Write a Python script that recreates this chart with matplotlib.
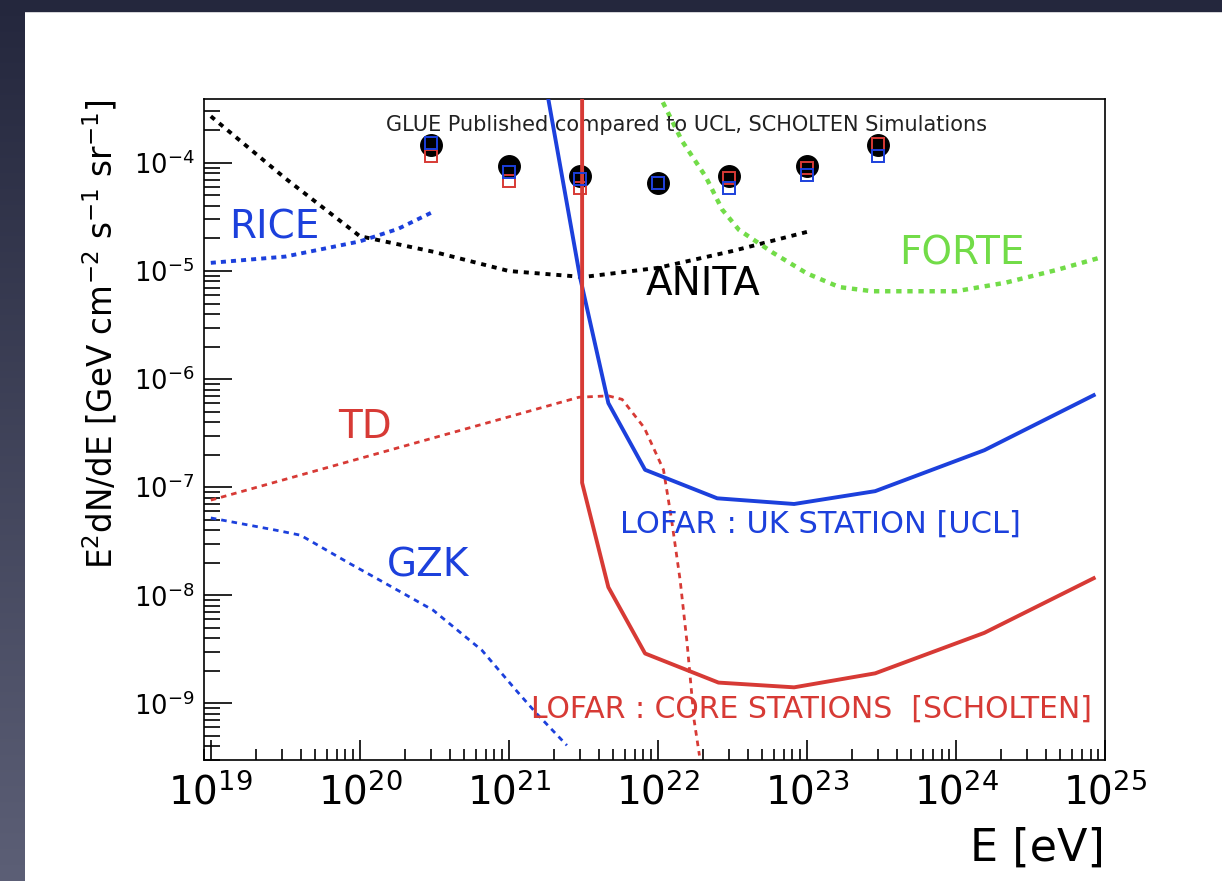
import numpy as np
import matplotlib.pyplot as plt
from matplotlib.colors import to_rgb
from matplotlib.patches import Rectangle
from matplotlib.ticker import LogLocator, NullFormatter

plt.rcParams['font.family'] = ['DejaVu Sans']
plt.rcParams['mathtext.fontset'] = 'dejavusans'

# GLUE published limits with the UCL / SCHOLTEN simulated points
glue_E = [3e20, 1e21, 3e21, 1e22, 3e22, 1e23, 3e23]
glue_flux = [1.45e-4, 9.4e-5, 7.5e-5, 6.5e-5, 7.5e-5, 9.4e-5, 1.45e-4]
ucl_flux = [1.53e-4, 8.3e-5, 7.1e-5, 6.5e-5, 5.9e-5, 7.7e-5, 1.16e-4]
scholten_flux = [1.16e-4, 6.8e-5, 5.9e-5, 6.5e-5, 7.3e-5, 9.0e-5, 1.5e-4]

# ANITA
anita_E = [1e19, 3.16e19, 1e20, 3.16e20, 1e21, 3.16e21, 1e22, 3.16e22, 1e23]
anita_flux = [2.7e-4, 7.2e-5, 2.1e-5, 1.5e-5, 1.0e-5, 8.8e-6, 1.07e-5, 1.53e-5, 2.3e-5]

# RICE
rice_E = [1e19, 3.16e19, 1e20, 1.8e20, 3.0e20]
rice_flux = [1.19e-5, 1.36e-5, 1.88e-5, 2.45e-5, 3.45e-5]

# FORTE
forte_E = [1.0e22, 1.45e22, 2.1e22, 2.7e22, 3.5e22, 5.9e22, 1.0e23, 1.65e23,
           2.75e23, 1.0e24, 2.15e24, 4.7e24, 9.1e24]
forte_flux = [4.5e-4, 1.6e-4, 7.4e-5, 3.7e-5, 2.4e-5, 1.48e-5, 9.5e-6, 7.1e-6,
              6.5e-6, 6.5e-6, 7.8e-6, 1.02e-5, 1.32e-5]

# LOFAR UK station (UCL)
ucl_E = [1.8e21, 3.0e21, 4.65e21, 8.2e21, 2.5e22, 8.2e22, 2.87e23, 1.55e24, 8.4e24]
ucl_limit = [4.6e-4, 8.8e-6, 6.0e-7, 1.45e-7, 7.9e-8, 7.0e-8, 9.2e-8, 2.2e-7, 7.1e-7]

# LOFAR core stations (SCHOLTEN)
core_E = [3.1e21, 3.1e21, 4.65e21, 8.2e21, 2.55e22, 8.2e22, 2.87e23, 1.55e24, 8.4e24]
core_limit = [1e-3, 1.1e-7, 1.19e-8, 2.9e-9, 1.56e-9, 1.41e-9, 1.9e-9, 4.5e-9, 1.44e-8]

# topological defects model
td_E = [1e19, 2.95e21, 4.65e21, 5.75e21, 8.1e21, 1.09e22, 1.23e22, 1.41e22,
        1.57e22, 1.75e22, 1.9e22]
td_flux = [7.6e-8, 6.8e-7, 7.0e-7, 6.5e-7, 3.55e-7, 1.45e-7, 5.2e-8, 1.38e-8,
           3.6e-9, 7.0e-10, 3.3e-10]

# GZK neutrinos
gzk_E = [1.0e19, 2.75e19, 4.0e19, 8.5e19, 1.3e20, 3.1e20, 6.6e20, 1.12e21,
         1.53e21, 2.45e21]
gzk_flux = [5.2e-8, 4.0e-8, 3.6e-8, 1.98e-8, 1.43e-8, 7.3e-9, 3.1e-9, 1.32e-9,
            8.1e-10, 4.1e-10]

# labelled decades
x_decades = [1e19, 1e20, 1e21, 1e22, 1e23, 1e24, 1e25]
y_decades = [1e-9, 1e-8, 1e-7, 1e-6, 1e-5, 1e-4]

blue = '#1c40dc'
red = '#d73a35'
green = '#72dc48'

fig = plt.figure(figsize=(12.22, 8.81), dpi=100, facecolor='white')

# slide background: dark gradient strip on the left, dark band on top
top_col = np.array(to_rgb('#24273d'))
bot_col = np.array(to_rgb('#5c5f76'))
t = np.linspace(0, 1, 881)[:, None, None]
strip = (1 - t) * top_col + t * bot_col
strip = np.repeat(strip, 25, axis=1)
fig.figimage(strip, xo=0, yo=0, origin='upper')
fig.add_artist(Rectangle((0, 1 - 11 / 881), 1, 11 / 881, color='#24273d',
                         transform=fig.transFigure))

ax = fig.add_axes([204 / 1222, 121 / 881, 901 / 1222, 661 / 881])
ax.set_xscale('log')
ax.set_yscale('log')

# curves
ax.plot(anita_E, anita_flux, color='black', lw=2.8, ls=(0, (1.3, 1.5)))
ax.plot(rice_E, rice_flux, color=blue, lw=2.8, ls=(0, (1.3, 1.3)))
ax.plot(forte_E, forte_flux, color=green, lw=3.2, ls=(0, (1.2, 1.3)))
ax.plot(td_E, td_flux, color=red, lw=2.0, ls=(0, (2.0, 1.8)))
ax.plot(gzk_E, gzk_flux, color=blue, lw=2.0, ls=(0, (2.0, 1.8)))

# data points
ax.plot(glue_E, glue_flux, 'o', color='black', ms=15.5, zorder=3)
ax.plot(ucl_E, ucl_limit, color=blue, lw=2.8, zorder=4)
ax.plot(core_E, core_limit, color=red, lw=2.8, zorder=4)
ax.plot(glue_E, scholten_flux, 's', mfc='none', mec=red, ms=8.5, mew=1.4, zorder=5)
ax.plot(glue_E, ucl_flux, 's', mfc='none', mec=blue, ms=8.5, mew=1.4, zorder=5)

ax.set_xlim(9e18, 1e25)
ax.set_ylim(3e-10, 3.9e-4)

# ROOT-style axes
ax.set_xticks(x_decades)
ax.set_yticks(y_decades)
for axis in (ax.xaxis, ax.yaxis):
    axis.set_minor_locator(LogLocator(base=10, subs=range(2, 10), numticks=20))
    axis.set_minor_formatter(NullFormatter())
ax.tick_params(which='both', direction='in', top=False, right=False, width=1.2)
ax.tick_params(axis='x', which='major', length=14.5, labelsize=28, pad=9)
ax.tick_params(axis='x', which='minor', length=8)
ax.tick_params(axis='y', which='major', length=20, labelsize=18.5, pad=7)
ax.tick_params(axis='y', which='minor', length=11.5)
for s in ax.spines.values():
    s.set_linewidth(1.2)

ax.set_ylabel(r'E$^{2}$dN/dE [GeV cm$^{-2}$ s$^{-1}$ sr$^{-1}$]', loc='top', fontsize=23.5)
ax.yaxis.set_label_coords(-0.094, 1.0)
ax.set_xlabel('E [eV]', loc='right', fontsize=32)
ax.xaxis.set_label_coords(1.0, -0.1)

# labels
ax.text(0.536, 0.9516, 'GLUE Published compared to UCL, SCHOLTEN Simulations',
        transform=ax.transAxes, ha='center', va='baseline', fontsize=15, color='#222222')
ax.text(0.0777, 0.7897, 'RICE', transform=ax.transAxes, ha='center', va='baseline',
        fontsize=28, color=blue)
ax.text(0.841, 0.749, 'FORTE', transform=ax.transAxes, ha='center', va='baseline',
        fontsize=28, color=green)
ax.text(0.554, 0.7035, 'ANITA', transform=ax.transAxes, ha='center', va='baseline',
        fontsize=28, color='black')
ax.text(0.1787, 0.487, 'TD', transform=ax.transAxes, ha='center', va='baseline',
        fontsize=28, color=red)
ax.text(0.2486, 0.2769, 'GZK', transform=ax.transAxes, ha='center', va='baseline',
        fontsize=28, color=blue)
ax.text(0.6837, 0.3434, 'LOFAR : UK STATION [UCL]', transform=ax.transAxes,
        ha='center', va='baseline', fontsize=22, color=blue)
ax.text(0.6748, 0.0635, 'LOFAR : CORE STATIONS  [SCHOLTEN]', transform=ax.transAxes,
        ha='center', va='baseline', fontsize=21.5, color=red)

fig.savefig('out.png', dpi=100)
